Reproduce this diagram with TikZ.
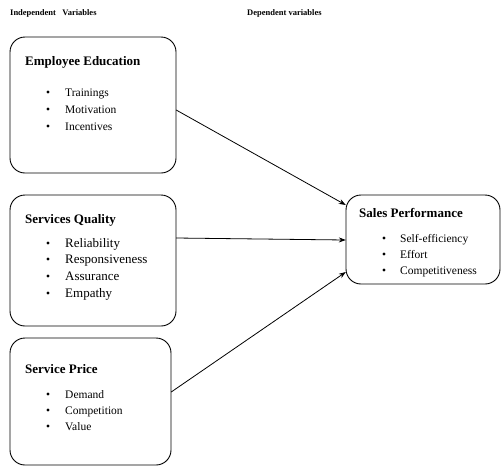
\documentclass[tikz,border=0pt]{standalone}
\usepackage{fontspec}
\setmainfont{Liberation Serif}
\usetikzlibrary{arrows.meta}
\begin{document}
\begin{tikzpicture}[x=1pt,y=-1pt,
  varbox/.style={draw, line width=0.9pt, rounded corners=15pt, inner sep=0pt},
  heading/.style={anchor=base west, font=\bfseries\fontsize{8.5}{9}\selectfont, inner sep=0pt},
  boxtitle/.style={anchor=base west, font=\bfseries\fontsize{13}{15}\selectfont, inner sep=0pt},
  item/.style={anchor=base west, font=\fontsize{11.5}{13}\selectfont, inner sep=0pt},
  bigitem/.style={anchor=base west, font=\fontsize{13}{14}\selectfont, inner sep=0pt},
  dot/.style={circle, fill, inner sep=0pt, minimum size=3.4pt},
  link/.style={line width=0.8pt, -{Stealth[length=7pt,width=5pt]}}
]
\useasboundingbox (0,0) rectangle (502,467);

% column headings
\node[heading] (hind) at (10,15) {Independent\ \ \ Variables};
\node[heading] (hdep) at (247,15) {Dependent variables};

% boxes
\draw[varbox] (10,37) rectangle (176,173);
\node (edu) at (93,105) [minimum width=166pt, minimum height=136pt] {};
\draw[varbox] (10,195) rectangle (176,326);
\node (qual) at (93,260.5) [minimum width=166pt, minimum height=131pt] {};
\draw[varbox] (10,338) rectangle (171,465);
\node (price) at (90.5,401.5) [minimum width=161pt, minimum height=127pt] {};
\draw[varbox] (346,195) rectangle (500,284);
\node (sales) at (423,239.5) [minimum width=154pt, minimum height=89pt] {};

% Employee Education
\node[boxtitle] (t1) at (25,65.5) {Employee Education};
\foreach \y/\txt [count=\i] in {92/Trainings,109/Motivation,126/Incentives}{
  \node[dot] (b1\i) at (48,\y) {};
  \node[item] (i1\i) at (65,\y+4) {\txt};
}

% Services Quality
\node[boxtitle] (t2) at (25,223.5) {Services Quality};
\foreach \y/\txt [count=\i] in {243/Reliability,259/Responsiveness,276/Assurance,293/Empathy}{
  \node[dot] (b2\i) at (48,\y) {};
  \node[bigitem] (i2\i) at (65,\y+4.5) {\txt};
}

% Service Price
\node[boxtitle] (t3) at (25,373.5) {Service Price};
\foreach \y/\txt [count=\i] in {394/Demand,410/Competition,426/Value}{
  \node[dot] (b3\i) at (48,\y) {};
  \node[item] (i3\i) at (65,\y+4) {\txt};
}

% Sales Performance
\node[boxtitle] (t4) at (359,217.5) {Sales Performance};
\foreach \y/\txt [count=\i] in {238/Self-efficiency,254/Effort,270/Competitiveness}{
  \node[dot] (b4\i) at (384,\y) {};
  \node[item] (i4\i) at (400,\y+4) {\txt};
}

% connectors
\draw[link] (edu.east |- 0,110) -- (sales.west |- 0,205);
\draw[link] (qual.east |- 0,238) -- (sales.west |- 0,240);
\draw[link] (price.east |- 0,392) -- (sales.west |- 0,272);
\end{tikzpicture}
\end{document}
